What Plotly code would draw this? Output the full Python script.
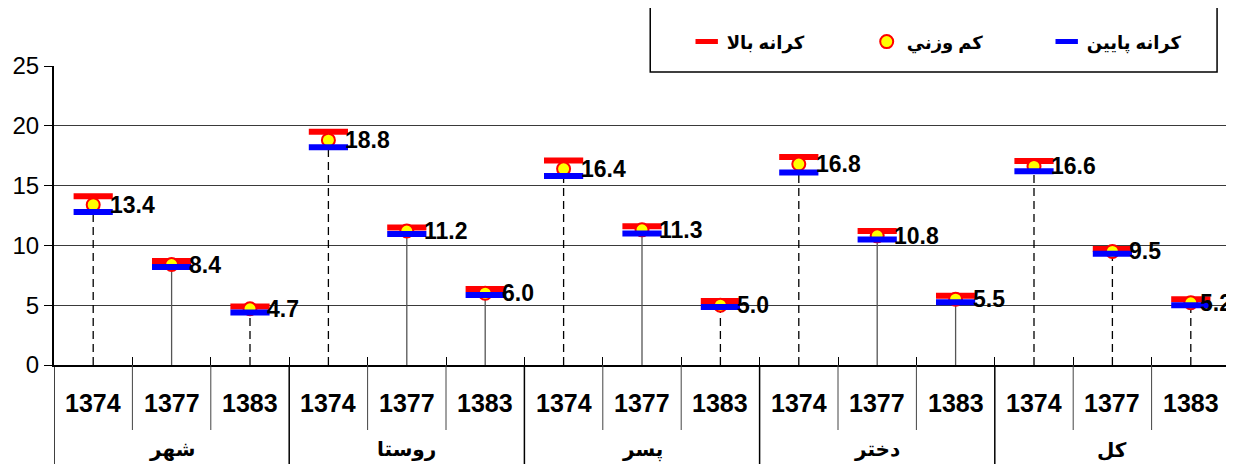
import plotly.graph_objects as go

groups = ["شهر", "روستا", "پسر", "دختر", "کل"]
years = ["1374", "1377", "1383"]
estimate = [13.4, 8.4, 4.7, 18.8, 11.2, 6.0, 16.4, 11.3, 5.0, 16.8, 10.8, 5.5, 16.6, 9.5, 5.2]
upper = [14.1, 8.7, 4.9, 19.5, 11.5, 6.35, 17.1, 11.6, 5.35, 17.4, 11.2, 5.8, 17.05, 9.7, 5.5]
lower = [12.8, 8.2, 4.4, 18.2, 10.95, 5.85, 15.8, 11.0, 4.85, 16.1, 10.5, 5.25, 16.2, 9.3, 5.0]
drop_style = ["dash", "solid", "dash", "dash", "solid", "solid", "dash", "solid", "dash",
              "dash", "solid", "solid", "dash", "dash", "dash"]
legend_names = ["کرانه بالا", "کم وزني", "کرانه پايين"]

FONT = "Liberation Sans, Arial, DejaVu Sans, sans-serif"
n = len(estimate)
xs = list(range(n))

fig = go.Figure()

# drop lines from 0 to lower bound
for style, color in (("dash", "black"), ("solid", "#555555")):
    lx, ly = [], []
    for i in xs:
        if drop_style[i] == style:
            lx += [i, i, None]
            ly += [0, lower[i], None]
    fig.add_trace(go.Scatter(
        x=lx, y=ly, mode="lines", showlegend=False, hoverinfo="skip",
        line=dict(color=color, width=1.3, dash="8px,5px" if style == "dash" else "solid"),
    ))

fig.add_trace(go.Scatter(
    x=xs, y=upper, mode="markers", name=legend_names[0],
    marker=dict(symbol="line-ew", size=28, line=dict(color="#FF0000", width=6)),
))
fig.add_trace(go.Scatter(
    x=xs, y=estimate, mode="markers", name=legend_names[1],
    marker=dict(symbol="circle", size=13, color="#FFFF00", line=dict(color="#FF0000", width=2)),
))
fig.add_trace(go.Scatter(
    x=xs, y=lower, mode="markers", name=legend_names[2],
    marker=dict(symbol="line-ew", size=28, line=dict(color="#0000FF", width=6)),
))

annotations = []
for i in xs:
    # the label at the right edge is pulled in so it stays inside the chart
    shift = 15 if i < n - 1 else 7
    annotations.append(dict(
        x=i, y=estimate[i], xref="x", yref="y", text=f"{estimate[i]:.1f}",
        showarrow=False, xanchor="left", yanchor="middle", xshift=shift,
        font=dict(family=FONT, size=23, color="black", weight="bold"),
    ))
    annotations.append(dict(
        x=i, y=-0.127, xref="x", yref="paper", text=years[i % 3],
        showarrow=False, xanchor="center", yanchor="middle",
        font=dict(family=FONT, size=25, color="black", weight="bold"),
    ))
for g, name in enumerate(groups):
    annotations.append(dict(
        x=3 * g + 1, y=-0.284, xref="x", yref="paper", text=name,
        showarrow=False, xanchor="center", yanchor="middle",
        font=dict(family=FONT, size=20, color="black", weight="bold"),
    ))

shapes = []
for k in range(n):
    b = k - 0.5
    is_group = (k % 3 == 0)
    shapes.append(dict(
        type="line", xref="x", yref="paper", x0=b, x1=b,
        y0=0, y1=-0.36 if is_group else -0.2174,
        line=dict(color="black" if is_group else "#444444", width=1.5 if is_group else 1),
    ))
# legend frame
shapes.append(dict(
    type="rect", xref="paper", yref="paper", x0=0.507, x1=0.989, y0=0.980, y1=1.25,
    fillcolor="white", line=dict(color="black", width=1.5), layer="above",
))

# the page body has an 8px margin, so the figure is offset by 8px right and down
fig.update_layout(
    width=1234, height=464,
    margin=dict(l=46, r=12, t=58, b=107, autoexpand=False),
    paper_bgcolor="white", plot_bgcolor="white",
    font=dict(family=FONT, color="black"),
    showlegend=True,
    legend=dict(
        orientation="h", xref="container", yref="container",
        x=0.550, xanchor="left", y=0.927, yanchor="middle",
        bgcolor="rgba(0,0,0,0)", borderwidth=0,
        entrywidth=135, entrywidthmode="pixels",
        font=dict(family=FONT, size=18, color="black", weight="bold"),
    ),
    xaxis=dict(
        range=[-0.5, 14.5], showgrid=False, zeroline=False,
        showline=True, linecolor="black", linewidth=2,
        tickvals=[k - 0.5 for k in range(n + 1)], ticktext=[""] * (n + 1),
        ticks="inside", ticklen=8, tickcolor="black", tickwidth=1,
        fixedrange=True,
    ),
    yaxis=dict(
        range=[0, 25], dtick=5, tick0=0,
        showgrid=True, gridcolor="#3a3a3a", gridwidth=1,
        zeroline=False, showline=True, linecolor="black", linewidth=2,
        ticks="outside", ticklen=8, tickcolor="black",
        tickfont=dict(family=FONT, size=24, color="black"),
        fixedrange=True,
    ),
    annotations=annotations,
    shapes=shapes,
)

fig.write_html("out.html")
